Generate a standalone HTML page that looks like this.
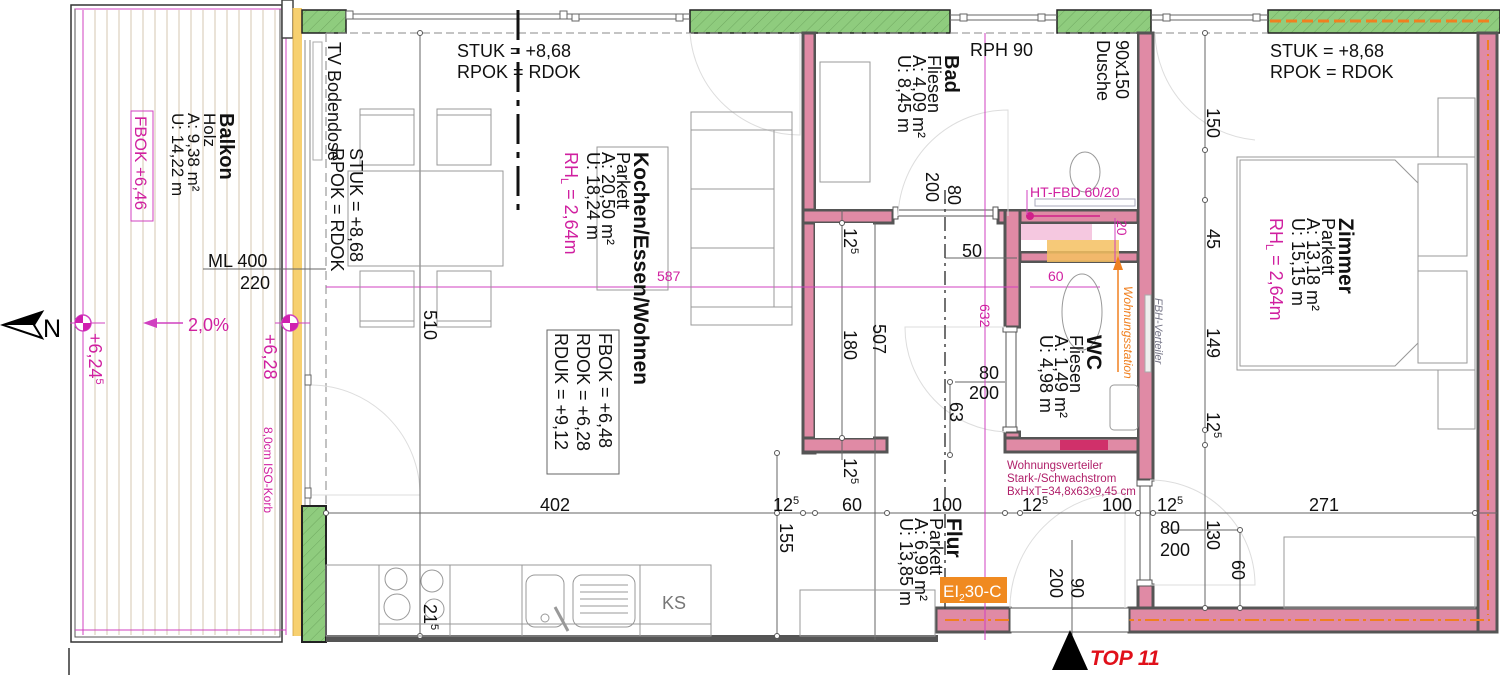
<!DOCTYPE html>
<html><head><meta charset="utf-8"><style>
html,body{margin:0;padding:0;background:#fff;}
svg{display:block;font-family:"Liberation Sans",sans-serif;}
</style></head><body>
<svg width="1500" height="675" viewBox="0 0 1500 675" xmlns="http://www.w3.org/2000/svg">
<defs>
<pattern id="hatch" width="8" height="8" patternUnits="userSpaceOnUse" patternTransform="rotate(45)">
<rect width="8" height="8" fill="#8fcc7e"/><line x1="0" y1="0" x2="0" y2="8" stroke="#6fa860" stroke-width="1"/>
</pattern>
</defs>
<!-- Balcony -->
<rect x="71" y="5" width="211" height="637" fill="none" stroke="#333" stroke-width="1.5"/>
<rect x="75" y="9" width="205" height="628" fill="none" stroke="#555" stroke-width="1"/>
<g stroke="#d6c7b0" stroke-width="1">
<line x1="95" y1="10" x2="95" y2="635"/><line x1="107" y1="10" x2="107" y2="635"/><line x1="119" y1="10" x2="119" y2="635"/><line x1="131" y1="10" x2="131" y2="635"/><line x1="143" y1="10" x2="143" y2="635"/><line x1="155" y1="10" x2="155" y2="635"/><line x1="167" y1="10" x2="167" y2="635"/><line x1="179" y1="10" x2="179" y2="635"/><line x1="191" y1="10" x2="191" y2="635"/><line x1="203" y1="10" x2="203" y2="635"/><line x1="215" y1="10" x2="215" y2="635"/><line x1="227" y1="10" x2="227" y2="635"/><line x1="239" y1="10" x2="239" y2="635"/><line x1="251" y1="10" x2="251" y2="635"/><line x1="263" y1="10" x2="263" y2="635"/><line x1="275" y1="10" x2="275" y2="635"/>
</g>
<line x1="83" y1="10" x2="83" y2="635" stroke="#d040c0" stroke-width="1"/>
<line x1="286" y1="10" x2="286" y2="635" stroke="#d040c0" stroke-width="1"/>
<line x1="75" y1="9" x2="300" y2="9" stroke="#d040c0" stroke-width="1"/>
<line x1="75" y1="630" x2="286" y2="630" stroke="#d040c0" stroke-width="1"/>
<rect x="282" y="0" width="11" height="38" fill="#fff" stroke="#444" stroke-width="1.5"/>
<rect x="293" y="8" width="9" height="628" fill="#f7d070"/>
<line x1="293" y1="8" x2="293" y2="636" stroke="#d0a040" stroke-width="0.8"/>
<line x1="69" y1="648" x2="69" y2="675" stroke="#333" stroke-width="1.5"/>
<!-- N arrow -->
<polygon points="3,325 42,312 34,325 42,338" fill="#fff" stroke="#000" stroke-width="2"/>
<polygon points="3,325 42,312 34,325" fill="#000"/>
<text x="43" y="337" font-size="25">N</text>
<!-- top wall -->
<rect x="302" y="10" width="44" height="23" fill="url(#hatch)" stroke="#222" stroke-width="1.5"/>
<rect x="690" y="10" width="260" height="23" fill="url(#hatch)" stroke="#222" stroke-width="1.5"/>
<rect x="1057" y="10" width="94" height="23" fill="url(#hatch)" stroke="#222" stroke-width="1.5"/>
<rect x="1268" y="10" width="232" height="23" fill="url(#hatch)" stroke="#222" stroke-width="1.5"/>
<line x1="1270" y1="21" x2="1490" y2="21" stroke="#f08020" stroke-width="3" stroke-dasharray="11,5"/>
<g stroke="#666" stroke-width="1" fill="#fff">
<line x1="346" y1="14" x2="690" y2="14"/><line x1="346" y1="19" x2="690" y2="19"/>
<rect x="346" y="11" width="7" height="8"/><rect x="560" y="11" width="7" height="8"/><rect x="572" y="14" width="7" height="7"/><rect x="676" y="14" width="7" height="7"/>
<line x1="950" y1="15" x2="1057" y2="15"/><line x1="950" y1="20" x2="1057" y2="20"/>
<rect x="960" y="14" width="7" height="7"/><rect x="1038" y="14" width="7" height="7"/>
<line x1="1151" y1="15" x2="1268" y2="15"/><line x1="1151" y1="20" x2="1268" y2="20"/>
<rect x="1163" y="14" width="7" height="7"/><rect x="1253" y="14" width="7" height="7"/>
</g>
<line x1="326" y1="33" x2="1268" y2="33" stroke="#888" stroke-width="1" stroke-dasharray="8,4"/>
<!-- left wall interior dashed -->
<line x1="326" y1="33" x2="326" y2="506" stroke="#999" stroke-width="1.2" stroke-dasharray="9,5"/>
<line x1="305" y1="40" x2="305" y2="505" stroke="#888" stroke-width="1"/>
<line x1="310" y1="40" x2="310" y2="505" stroke="#888" stroke-width="1"/>
<rect x="313" y="42" width="9" height="118" fill="none" stroke="#aaa" stroke-width="1"/>
<rect x="305" y="375" width="6" height="10" fill="#fff" stroke="#666"/><rect x="305" y="488" width="6" height="10" fill="#fff" stroke="#666"/>
<path d="M312 385 A 110 110 0 0 1 420 495 L312 495" fill="none" stroke="#ddd" stroke-width="1"/>
<rect x="302" y="506" width="24" height="136" fill="url(#hatch)" stroke="#222" stroke-width="2"/>
<!-- kitchen bottom wall -->
<rect x="326" y="635" width="612" height="7" fill="#555"/>
<!-- walls -->
<g fill="#e08aa5" stroke="#555" stroke-width="3">
<rect x="803" y="33" width="12" height="420"/>
<rect x="803" y="210" width="90" height="13"/>
<rect x="803" y="438" width="84" height="14"/>
<rect x="998" y="210" width="155" height="13"/>
<rect x="1005" y="210" width="15" height="117"/>
<rect x="1005" y="432" width="15" height="20"/>
<rect x="1005" y="438" width="148" height="14"/>
<rect x="1020" y="252" width="133" height="10"/>
<rect x="1138" y="33" width="15" height="447"/>
<rect x="1138" y="585" width="15" height="25"/>
<rect x="936" y="608" width="74" height="24"/>
<rect x="1129" y="608" width="368" height="24"/>
<rect x="1478" y="33" width="19" height="599"/>
</g>
<rect x="815" y="223" width="58" height="215" fill="#fff"/>
<rect x="816" y="34" width="321" height="175" fill="#fff"/>
<rect x="1021" y="224" width="116" height="27" fill="#fff"/>
<rect x="1021" y="224" width="71" height="16" fill="#f5c8e0"/>
<rect x="1047" y="240" width="72" height="22" fill="#f5c060" opacity="0.85"/>
<rect x="1021" y="263" width="116" height="174" fill="#fff"/>
<rect x="1060" y="440" width="48" height="10" fill="#d0306a"/>
<circle cx="1030" cy="216" r="4" fill="#d0208a"/>
<line x1="1030" y1="216" x2="1100" y2="216" stroke="#d0208a" stroke-width="1.5"/>
<line x1="1488" y1="40" x2="1488" y2="615" stroke="#f08020" stroke-width="2" stroke-dasharray="10,4,2,4"/>
<line x1="945" y1="620" x2="1490" y2="620" stroke="#f08020" stroke-width="2" stroke-dasharray="14,4,3,4"/>
<!-- door frames -->
<g fill="#fff" stroke="#555" stroke-width="1">
<rect x="893" y="210" width="105" height="6"/><rect x="893" y="207" width="5" height="12"/><rect x="993" y="207" width="5" height="12"/>
<rect x="1006" y="327" width="10" height="105"/><rect x="1003" y="327" width="14" height="5"/><rect x="1003" y="427" width="14" height="5"/>
<rect x="1140" y="480" width="10" height="105"/><rect x="1137" y="480" width="15" height="6"/><rect x="1137" y="580" width="15" height="6"/>
<rect x="1010" y="608" width="119" height="24"/>
</g>
<!-- door arcs -->
<g fill="none" stroke="#ddd" stroke-width="1">
<path d="M898 216 A 110 110 0 0 1 1008 110 L1008 216"/>
<path d="M1006 432 A 105 105 0 0 1 905 327 L1006 327"/>
<path d="M1150 480 A 105 105 0 0 1 1255 585 L1150 585"/>
<path d="M1010 608 A 115 115 0 0 1 1125 493 L1125 608"/>
<path d="M1155 33 A 110 110 0 0 0 1255 140"/>
<path d="M690 33 A 110 110 0 0 0 800 135 L800 33"/>
</g>
<!-- dimension lines -->
<g stroke="#666" stroke-width="1" fill="none">
<line x1="326" y1="513" x2="1497" y2="513"/>
<line x1="420" y1="33" x2="420" y2="640"/>
<line x1="777" y1="453" x2="777" y2="640"/>
<line x1="875" y1="223" x2="875" y2="640"/>
<line x1="842" y1="210" x2="842" y2="460"/>
<line x1="1205" y1="33" x2="1205" y2="608"/>
<line x1="1168" y1="530" x2="1240" y2="530"/>
<line x1="1240" y1="530" x2="1240" y2="608"/>
<line x1="1072" y1="540" x2="1072" y2="640"/>
<line x1="945" y1="258" x2="1017" y2="258"/>
<line x1="955" y1="382" x2="1005" y2="382"/>
<line x1="950" y1="382" x2="950" y2="455"/>
<line x1="203" y1="269" x2="326" y2="269"/>
</g>
<line x1="945" y1="190" x2="945" y2="610" stroke="#444" stroke-width="1.5" stroke-dasharray="14,5,3,5"/>
<line x1="518" y1="10" x2="518" y2="210" stroke="#111" stroke-width="3" stroke-dasharray="30,8,6,8"/>
<g fill="#fff" stroke="#555" stroke-width="1">
<circle cx="326" cy="513" r="2.5"/><circle cx="777" cy="513" r="2.5"/><circle cx="803" cy="513" r="2.5"/><circle cx="815" cy="513" r="2.5"/><circle cx="887" cy="513" r="2.5"/><circle cx="1005" cy="513" r="2.5"/><circle cx="1020" cy="513" r="2.5"/><circle cx="1138" cy="513" r="2.5"/><circle cx="1153" cy="513" r="2.5"/><circle cx="1475" cy="513" r="2.5"/>
<circle cx="1205" cy="33" r="2.5"/><circle cx="1205" cy="150" r="2.5"/><circle cx="1205" cy="200" r="2.5"/><circle cx="1205" cy="430" r="2.5"/><circle cx="1205" cy="445" r="2.5"/><circle cx="1205" cy="608" r="2.5"/>
<circle cx="842" cy="223" r="2.5"/><circle cx="842" cy="438" r="2.5"/><circle cx="420" cy="33" r="2.5"/><circle cx="420" cy="636" r="2.5"/><circle cx="777" cy="453" r="2.5"/><circle cx="777" cy="636" r="2.5"/>
<circle cx="950" cy="382" r="2.5"/><circle cx="950" cy="455" r="2.5"/><circle cx="1240" cy="530" r="2.5"/><circle cx="1240" cy="608" r="2.5"/>
</g>
<!-- magenta lines -->
<line x1="326" y1="287" x2="1018" y2="287" stroke="#d040c0" stroke-width="1"/>
<line x1="985" y1="33" x2="985" y2="640" stroke="#d040c0" stroke-width="1"/>
<line x1="1030" y1="287" x2="1100" y2="287" stroke="#d040c0" stroke-width="1"/>
<line x1="1027" y1="190" x2="1027" y2="215" stroke="#d040c0" stroke-width="1"/>
<line x1="1115" y1="218" x2="1115" y2="262" stroke="#d040c0" stroke-width="1"/>
<line x1="1118" y1="262" x2="1118" y2="372" stroke="#f08020" stroke-width="1.5"/>
<polygon points="1113,270 1118,256 1123,270" fill="#f08020"/>
<!-- markers -->
<g>
<line x1="70" y1="323" x2="105" y2="323" stroke="#d040c0"/><line x1="275" y1="323" x2="310" y2="323" stroke="#d040c0"/>
<circle cx="83" cy="323" r="8" fill="#fff" stroke="#d040c0" stroke-width="1.5"/>
<path d="M83 323 L75 323 A8 8 0 0 1 83 315 Z M83 323 L91 323 A8 8 0 0 1 83 331 Z" fill="#d020b0"/>
<circle cx="290" cy="323" r="8" fill="#fff" stroke="#d040c0" stroke-width="1.5"/>
<path d="M290 323 L282 323 A8 8 0 0 1 290 315 Z M290 323 L298 323 A8 8 0 0 1 290 331 Z" fill="#d020b0"/>
<line x1="150" y1="323" x2="183" y2="323" stroke="#d040c0" stroke-width="1.5"/>
<polygon points="143,323 157,318 157,328" fill="#d040c0"/>
</g>
<!-- furniture -->
<g fill="none" stroke="#999" stroke-width="1">
<rect x="360" y="109" width="54" height="56"/><line x1="360" y1="115" x2="414" y2="115"/>
<rect x="437" y="109" width="54" height="56"/><line x1="437" y1="115" x2="491" y2="115"/>
<rect x="348" y="171" width="155" height="95"/>
<rect x="360" y="271" width="54" height="56"/><line x1="360" y1="321" x2="414" y2="321"/>
<rect x="437" y="271" width="54" height="56"/><line x1="437" y1="321" x2="491" y2="321"/>
<rect x="597" y="147" width="71" height="143"/>
<rect x="691" y="112" width="101" height="213"/><line x1="691" y1="130" x2="792" y2="130"/><line x1="691" y1="307" x2="792" y2="307"/><line x1="774" y1="130" x2="774" y2="307"/><line x1="691" y1="189" x2="774" y2="189"/><line x1="691" y1="248" x2="774" y2="248"/>
<rect x="547" y="330" width="72" height="144" stroke="#666"/>
<rect x="326" y="565" width="385" height="71"/>
<rect x="379" y="565" width="71" height="71"/><line x1="379" y1="624" x2="711" y2="624"/>
<circle cx="396" cy="579" r="11"/><circle cx="432" cy="581" r="11"/><circle cx="397" cy="607" r="13"/><circle cx="434" cy="609" r="10"/>
<rect x="522" y="565" width="118" height="71"/>
<rect x="526" y="575" width="38" height="52" rx="9"/><rect x="573" y="575" width="62" height="52" rx="9"/>
<circle cx="545" cy="618" r="4"/><line x1="555" y1="607" x2="568" y2="631" stroke-width="3"/>
<line x1="580" y1="585" x2="628" y2="585"/><line x1="580" y1="592" x2="628" y2="592"/><line x1="580" y1="599" x2="628" y2="599"/><line x1="580" y1="606" x2="628" y2="606"/><line x1="580" y1="613" x2="628" y2="613"/>
<rect x="800" y="590" width="135" height="46"/>
<rect x="820" y="62" width="50" height="120"/>
<ellipse cx="1085" cy="172" rx="15" ry="20"/>
<rect x="1035" y="199" width="100" height="7" stroke="#aab"/>
<ellipse cx="1082" cy="312" rx="20" ry="38"/>
<rect x="1110" y="385" width="28" height="45" rx="4"/>
<rect x="1145" y="295" width="6" height="77" fill="#eee" stroke="#aaa"/>
<rect x="1237" y="157" width="238" height="213"/>
<path d="M1240 160 L1395 160 L1418 183 L1418 343 L1395 366 L1240 366 Z"/>
<rect x="1418" y="164" width="49" height="92"/><rect x="1418" y="271" width="49" height="92"/>
<rect x="1438" y="98" width="37" height="59"/><rect x="1438" y="370" width="37" height="59"/>
<rect x="1284" y="537" width="191" height="71"/>
</g>
<!-- EI2 box -->
<rect x="940" y="577" width="67" height="26" fill="#f08a20"/>
<text x="943" y="597" font-size="17" fill="#fff">EI<tspan font-size="10" dy="4">2</tspan><tspan dy="-4">30-C</tspan></text>
<!-- TOP 11 -->
<polygon points="1052,670 1070,630 1088,670" fill="#000"/>
<text x="1090" y="665" font-size="21" font-weight="bold" font-style="italic" fill="#e0101a">TOP 11</text>
<!-- horizontal texts -->
<g font-size="18" fill="#111">
<text x="457" y="57">STUK = +8,68</text><text x="457" y="78">RPOK = RDOK</text>
<text x="1270" y="57">STUK = +8,68</text><text x="1270" y="78">RPOK = RDOK</text>
<text x="208" y="267">ML 400</text><text x="240" y="289">220</text>
<text x="970" y="56">RPH  90</text>
<text x="540" y="511">402</text>
<text x="773" y="511">12<tspan font-size="11" dy="-7">5</tspan></text>
<text x="842" y="511">60</text><text x="932" y="511">100</text>
<text x="1022" y="511">12<tspan font-size="11" dy="-7">5</tspan></text>
<text x="1102" y="511">100</text>
<text x="1157" y="511">12<tspan font-size="11" dy="-7">5</tspan></text>
<text x="1309" y="511">271</text>
<text x="962" y="257">50</text>
<text x="979" y="379">80</text><text x="969" y="399">200</text>
<text x="1160" y="534">80</text><text x="1160" y="556">200</text>
</g>
<text x="662" y="609" font-size="18" fill="#777">KS</text>
<g fill="#d020a0">
<text x="188" y="331" font-size="18">2,0%</text>
<text x="657" y="281" font-size="14">587</text>
<text x="1048" y="281" font-size="14">60</text>
<text x="1030" y="197" font-size="14">HT-FBD 60/20</text>
</g>
<g fill="#b0206a" font-size="11.5">
<text x="1007" y="469">Wohnungsverteiler</text>
<text x="1007" y="482">Stark-/Schwachstrom</text>
<text x="1007" y="495">BxHxT=34,8x63x9,45 cm</text>
</g>
<!-- rotated texts -->
<g font-size="18" fill="#111">
<g transform="translate(220,113) rotate(90)"><text font-size="20" font-weight="bold">Balkon</text><text y="16" font-size="17">Holz</text><text y="32" font-size="17">A: 9,38 m²</text><text y="48" font-size="17">U: 14,22 m</text></g>
<g transform="translate(328,42) rotate(90)"><text>TV Bodendose</text></g>
<g transform="translate(331,148) rotate(90)"><text y="-19">STUK = +8,68</text><text>RPOK = RDOK</text></g>
<g transform="translate(634,152) rotate(90)"><text font-size="21" font-weight="bold">Kochen/Essen/Wohnen</text><text y="17">Parkett</text><text y="32">A: 20,50 m²</text><text y="47">U: 18,24 m</text><text y="69" fill="#d020a0">RH<tspan font-size="11" dy="4">L</tspan><tspan dy="-4"> = 2,64m</tspan></text></g>
<g transform="translate(599,333) rotate(90)"><text>FBOK  = +6,48</text><text y="22">RDOK  = +6,28</text><text y="44">RDUK  = +9,12</text></g>
<g transform="translate(945,55) rotate(90)"><text font-size="20" font-weight="bold">Bad</text><text y="17">Fliesen</text><text y="32">A: 4,09 m²</text><text y="47">U: 8,45 m</text></g>
<g transform="translate(1116,40) rotate(90)"><text>90x150</text><text y="19">Dusche</text></g>
<g transform="translate(948,172) rotate(90)"><text x="13">80</text><text y="22">200</text></g>
<g transform="translate(1339,218) rotate(90)"><text font-size="21" font-weight="bold">Zimmer</text><text y="17">Parkett</text><text y="32">A: 13,18 m²</text><text y="47">U: 15,15 m</text><text y="69" fill="#d020a0">RH<tspan font-size="11" dy="4">L</tspan><tspan dy="-4"> = 2,64m</tspan></text></g>
<g transform="translate(1087,335) rotate(90)"><text font-size="21" font-weight="bold">WC</text><text y="17">Fliesen</text><text y="32">A: 1,49 m²</text><text y="47">U: 4,98 m</text></g>
<g transform="translate(947,518) rotate(90)"><text font-size="21" font-weight="bold">Flur</text><text y="17">Parkett</text><text y="32">A: 6,99 m²</text><text y="47">U: 13,85 m</text></g>
<text transform="translate(424,310) rotate(90)">510</text>
<text transform="translate(424,604) rotate(90)">21<tspan font-size="11" dy="-7">5</tspan></text>
<text transform="translate(780,523) rotate(90)">155</text>
<text transform="translate(873,324) rotate(90)">507</text>
<text transform="translate(844,330) rotate(90)">180</text>
<text transform="translate(844,228) rotate(90)">12<tspan font-size="11" dy="-7">5</tspan></text>
<text transform="translate(844,458) rotate(90)">12<tspan font-size="11" dy="-7">5</tspan></text>
<text transform="translate(950,402) rotate(90)">63</text>
<text transform="translate(1207,108) rotate(90)">150</text>
<text transform="translate(1207,229) rotate(90)">45</text>
<text transform="translate(1207,328) rotate(90)">149</text>
<text transform="translate(1207,412) rotate(90)">12<tspan font-size="11" dy="-7">5</tspan></text>
<text transform="translate(1207,520) rotate(90)">130</text>
<text transform="translate(1232,560) rotate(90)">60</text>
<text transform="translate(1071,578) rotate(90)">90</text>
<text transform="translate(1050,568) rotate(90)">200</text>
</g>
<g fill="#d020a0">
<g transform="translate(135,116) rotate(90)"><text font-size="17">FBOK +6,46</text></g>
<rect x="131" y="111" width="22" height="110" fill="none" stroke="#d040c0"/>
<text transform="translate(89,333) rotate(90)" font-size="18">+6,24<tspan font-size="11" dy="-7">5</tspan></text>
<text transform="translate(264,334) rotate(90)" font-size="18">+6,28</text>
<text transform="translate(264,427) rotate(90)" font-size="12">8,0cm ISO-Korb</text>
<text transform="translate(980,304) rotate(90)" font-size="14">632</text>
<text transform="translate(1117,220) rotate(90)" font-size="14">20</text>
</g>
<text transform="translate(1124,286) rotate(90)" font-size="12" font-style="italic" fill="#f08020">Wohnungsstation</text>
<text transform="translate(1155,298) rotate(90)" font-size="11" font-style="italic" fill="#778">FBH-Verteiler</text>
</svg>
</body></html>
